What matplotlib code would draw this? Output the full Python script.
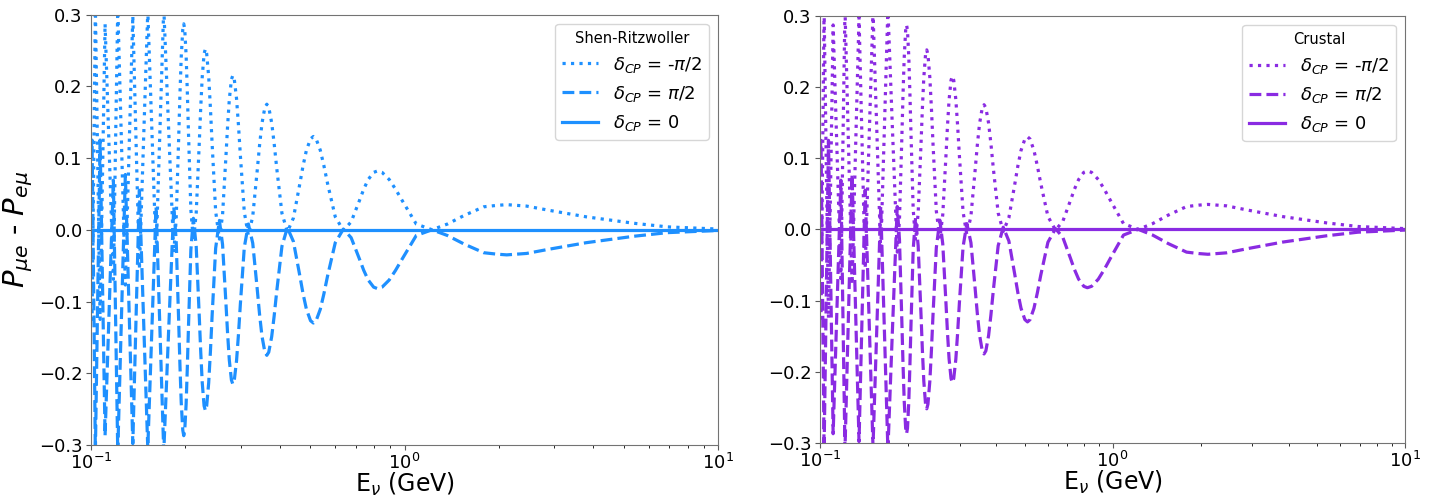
import matplotlib
matplotlib.use("Agg")
import matplotlib.pyplot as plt

# energies (GeV), with P_mue - P_emu for each delta_CP
energy = [0.1000, 0.10074, 0.10321, 0.10684, 0.11083, 0.11779, 0.12166, 0.12864,
          0.13219, 0.13588, 0.13918, 0.14261, 0.14706, 0.15168, 0.15637, 0.16119,
          0.16584, 0.17056, 0.17683, 0.18357, 0.18683, 0.19030, 0.19208, 0.19389,
          0.19612, 0.19754, 0.19897, 0.20101, 0.20274, 0.20450, 0.20812, 0.21202,
          0.21645, 0.22124, 0.22371, 0.22624, 0.22936, 0.23156, 0.23375, 0.23725,
          0.24024, 0.24331, 0.24969, 0.25665, 0.26264, 0.26918, 0.27257, 0.27605,
          0.28035, 0.28314, 0.28637, 0.29112, 0.29520, 0.29940, 0.30817, 0.31754,
          0.32787, 0.33898, 0.34483, 0.35088, 0.35842, 0.36356, 0.36880, 0.37683,
          0.38378, 0.39101, 0.40630, 0.42282, 0.44204, 0.46307, 0.47435, 0.48620,
          0.50123, 0.51181, 0.52211, 0.53843, 0.55283, 0.56802, 0.60105, 0.63795,
          0.67556, 0.71762, 0.74067, 0.76526, 0.79700, 0.81994, 0.84767, 0.89345,
          0.93556, 0.98184, 1.08962, 1.22335, 1.37, 1.55, 1.79, 1.97,
          2.118, 2.45, 2.9, 3.8, 5.4, 6.9, 10.0]

d_minus = [-0.110, -0.125, 0.310, -0.125, 0.287, -0.069, 0.310, -0.077,
           0.1105, 0.298, 0.1215, -0.055, 0.125, 0.305, 0.1365, -0.032,
           0.139, 0.310, 0.139, -0.032, 0.0146, 0.1275, 0.1884, 0.2404,
           0.2792, 0.287, 0.2796, 0.2428, 0.1934, 0.1355, 0.0282, -0.016,
           0.0231, 0.118, 0.1692, 0.2129, 0.2454, 0.252, 0.2455, 0.2133,
           0.1701, 0.1195, 0.0257, -0.013, 0.0203, 0.101, 0.1445, 0.1817,
           0.2094, 0.215, 0.2095, 0.1824, 0.1461, 0.1035, 0.0246, -0.008,
           0.0187, 0.0835, 0.1185, 0.1483, 0.1705, 0.175, 0.1706, 0.149,
           0.120, 0.086, 0.023, -0.003, 0.0164, 0.0635, 0.0889, 0.1106,
           0.1267, 0.130, 0.1268, 0.1109, 0.0895, 0.0645, 0.0181, -0.001,
           0.0111, 0.0405, 0.0564, 0.0699, 0.080, 0.082, 0.080, 0.070,
           0.0567, 0.041, 0.008, 0.0, 0.008, 0.020, 0.032, 0.034,
           0.035, 0.033, 0.027, 0.018, 0.009, 0.004, 0.001]

d_plus = [0.110, 0.125, -0.310, 0.125, -0.287, 0.069, -0.310, 0.077,
          -0.1105, -0.298, -0.1215, 0.055, -0.125, -0.305, -0.1365, 0.032,
          -0.139, -0.310, -0.139, 0.032, -0.0146, -0.1275, -0.1884, -0.2404,
          -0.2792, -0.287, -0.2796, -0.2428, -0.1934, -0.1355, -0.0282, 0.016,
          -0.0231, -0.118, -0.1692, -0.2129, -0.2454, -0.252, -0.2455, -0.2133,
          -0.1701, -0.1195, -0.0257, 0.013, -0.0203, -0.101, -0.1445, -0.1817,
          -0.2094, -0.215, -0.2095, -0.1824, -0.1461, -0.1035, -0.0246, 0.008,
          -0.0187, -0.0835, -0.1185, -0.1483, -0.1705, -0.175, -0.1706, -0.149,
          -0.120, -0.086, -0.023, 0.003, -0.0164, -0.0635, -0.0889, -0.1106,
          -0.1267, -0.130, -0.1268, -0.1109, -0.0895, -0.0645, -0.0181, 0.001,
          -0.0111, -0.0405, -0.0564, -0.0699, -0.080, -0.082, -0.080, -0.070,
          -0.0567, -0.041, -0.008, 0.0, -0.008, -0.020, -0.032, -0.034,
          -0.035, -0.033, -0.027, -0.018, -0.009, -0.004, -0.001]

zero_e = [0.1, 10.0]
zero_p = [0.0, 0.0]

models = ["Shen-Ritzwoller", "Crustal"]
colors = ["#1E90FF", "#8A2BE2"]

fig = plt.figure(figsize=(14.41, 4.97), dpi=100)
boxes = [[0.0632, 0.1046, 0.4351, 0.8662], [0.5691, 0.1087, 0.4060, 0.8597]]

for i in range(2):
    ax = fig.add_axes(boxes[i])
    c = colors[i]
    ax.plot(energy, d_minus, ':', color=c, lw=2.3, label=r"$\delta_{CP}$ = -$\pi$/2")
    ax.plot(energy, d_plus, '--', color=c, lw=2.3, label=r"$\delta_{CP}$ = $\pi$/2")
    ax.plot(zero_e, zero_p, '-', color=c, lw=2.3, label=r"$\delta_{CP}$ = 0")
    ax.set_xscale('log')
    ax.set_xlim(0.1, 10)
    ax.set_ylim(-0.3, 0.3)
    ax.set_yticks([-0.3, -0.2, -0.1, 0.0, 0.1, 0.2, 0.3])
    ax.tick_params(labelsize=13, colors='0.35', labelcolor='black', pad=2.5)
    for s in ax.spines.values():
        s.set_color('0.45')
    ax.set_xlabel(r"E$_\nu$ (GeV)", fontsize=17, labelpad=-2)
    if i == 0:
        ax.set_ylabel(r"$P_{\mu e}$ - $P_{e\mu}$", fontsize=21, labelpad=3)
    leg = ax.legend(title=models[i], loc='upper right', fontsize=13,
                    title_fontsize=10.5)

fig.savefig("out.png", dpi=100)
